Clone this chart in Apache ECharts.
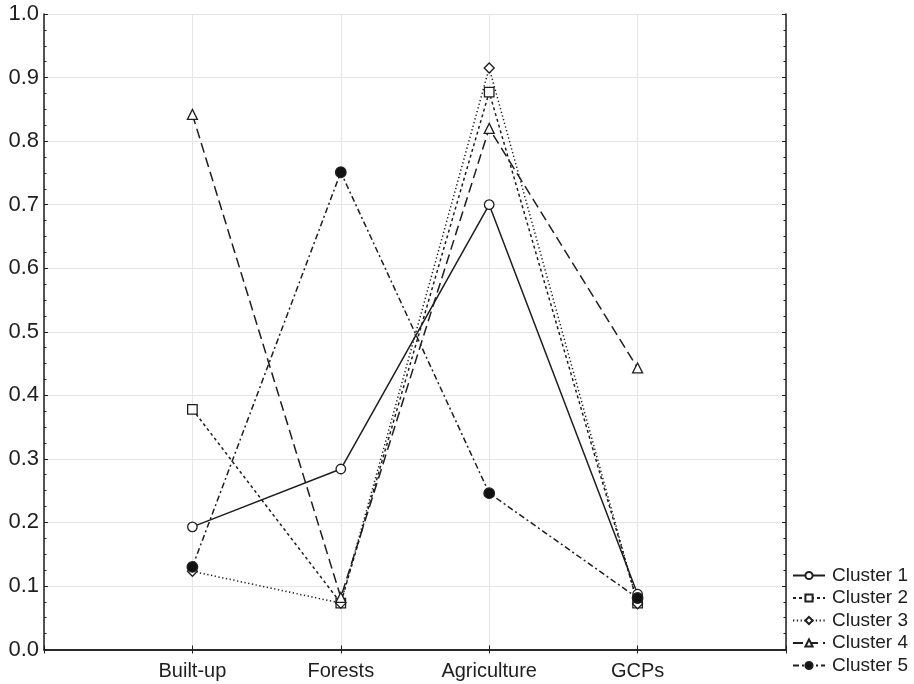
<!DOCTYPE html>
<html>
<head>
<meta charset="utf-8">
<script src="https://cdn.jsdelivr.net/npm/echarts@6/dist/echarts.min.js"></script>
<style>html,body{margin:0;padding:0;background:#fff;}#c{width:914px;height:684px;}</style>
</head>
<body>
<div id="c"></div>
<script>
const categories = ['Built-up', 'Forests', 'Agriculture', 'GCPs'];
const cluster1 = [0.193, 0.284, 0.700, 0.087];
const cluster2 = [0.378, 0.073, 0.877, 0.073];
const cluster3 = [0.123, 0.073, 0.915, 0.072];
const cluster4 = [0.842, 0.082, 0.820, 0.443];
const cluster5 = [0.130, 0.751, 0.246, 0.081];
const seriesNames = ['Cluster 1', 'Cluster 2', 'Cluster 3', 'Cluster 4', 'Cluster 5'];
const yTicks = ['0.0','0.1','0.2','0.3','0.4','0.5','0.6','0.7','0.8','0.9','1.0'];

const axisCats = [''].concat(categories, ['']);
const pad = arr => [null].concat(arr, [null]);
const ink = '#1e1e1e';
const font = 'Liberation Sans, Arial, sans-serif';

const styles = [
  {data: cluster1, symbol: 'circle', size: 9.5, fill: '#fff', type: 'solid'},
  {data: cluster2, symbol: 'rect', size: 9.5, fill: '#fff', type: [3, 3]},
  {data: cluster3, symbol: 'diamond', size: 10, fill: '#fff', type: [1.3, 2.5]},
  {data: cluster4, symbol: 'triangle', size: 10, fill: '#fff', type: [10, 5]},
  {data: cluster5, symbol: 'circle', size: 10.5, fill: '#111', type: [6, 3, 2, 3]}
];

const series = styles.map((s, i) => ({
  name: seriesNames[i],
  type: 'line',
  data: pad(s.data),
  symbol: s.symbol,
  symbolSize: s.size,
  showAllSymbol: true,
  connectNulls: false,
  lineStyle: {color: ink, width: 1.5, type: s.type},
  itemStyle: {color: s.fill, borderColor: ink, borderWidth: 1.3},
  emphasis: {disabled: true},
  animation: false,
  z: 3
}));

const chart = echarts.init(document.getElementById('c'), null, {renderer: 'canvas'});
chart.setOption({
  backgroundColor: '#fff',
  animation: false,
  grid: {left: 44, right: 128, top: 14, bottom: 34.5, containLabel: false},
  legend: {
    orient: 'vertical',
    left: 792,
    top: 566,
    height: 118,
    padding: 0,
    itemWidth: 32,
    itemHeight: 9,
    itemGap: 3.5,
    textStyle: {fontFamily: font, fontSize: 19, lineHeight: 19, color: ink, padding: [0, 0, 0, 2]},
    data: seriesNames
  },
  xAxis: [{
    type: 'category',
    data: axisCats,
    boundaryGap: false,
    axisLine: {lineStyle: {color: ink, width: 1.5}},
    axisTick: {show: true, inside: true, length: 4, lineStyle: {color: ink}},
    axisLabel: {fontFamily: font, fontSize: 20, color: ink, margin: 12, interval: 0},
    splitLine: {show: true, lineStyle: {color: '#e6e6e6', width: 1}}
  }, {
    type: 'category',
    data: axisCats,
    position: 'top',
    boundaryGap: false,
    axisLine: {lineStyle: {color: ink, width: 1.5}},
    axisTick: {show: true, inside: true, length: 4, lineStyle: {color: ink}},
    axisLabel: {show: false},
    splitLine: {show: false}
  }],
  yAxis: [{
    type: 'value',
    min: 0, max: 1, interval: 0.1,
    axisLine: {show: true, lineStyle: {color: ink, width: 1.5}},
    axisTick: {show: true, inside: true, length: 4, lineStyle: {color: ink}},
    minorTick: {show: true, splitNumber: 4, length: 2.5, lineStyle: {color: ink}},
    axisLabel: {fontFamily: font, fontSize: 22, color: ink, margin: 5,
      formatter: v => yTicks[Math.round(v * 10)]},
    splitLine: {show: true, lineStyle: {color: '#e6e6e6', width: 1}}
  }, {
    type: 'value',
    position: 'right',
    min: 0, max: 1, interval: 0.1,
    axisLine: {show: true, lineStyle: {color: ink, width: 1.5}},
    axisTick: {show: true, inside: true, length: 4, lineStyle: {color: ink}},
    minorTick: {show: true, splitNumber: 4, length: 2.5, lineStyle: {color: ink}},
    axisLabel: {show: false},
    splitLine: {show: false}
  }],
  series: series
});
</script>
</body>
</html>
